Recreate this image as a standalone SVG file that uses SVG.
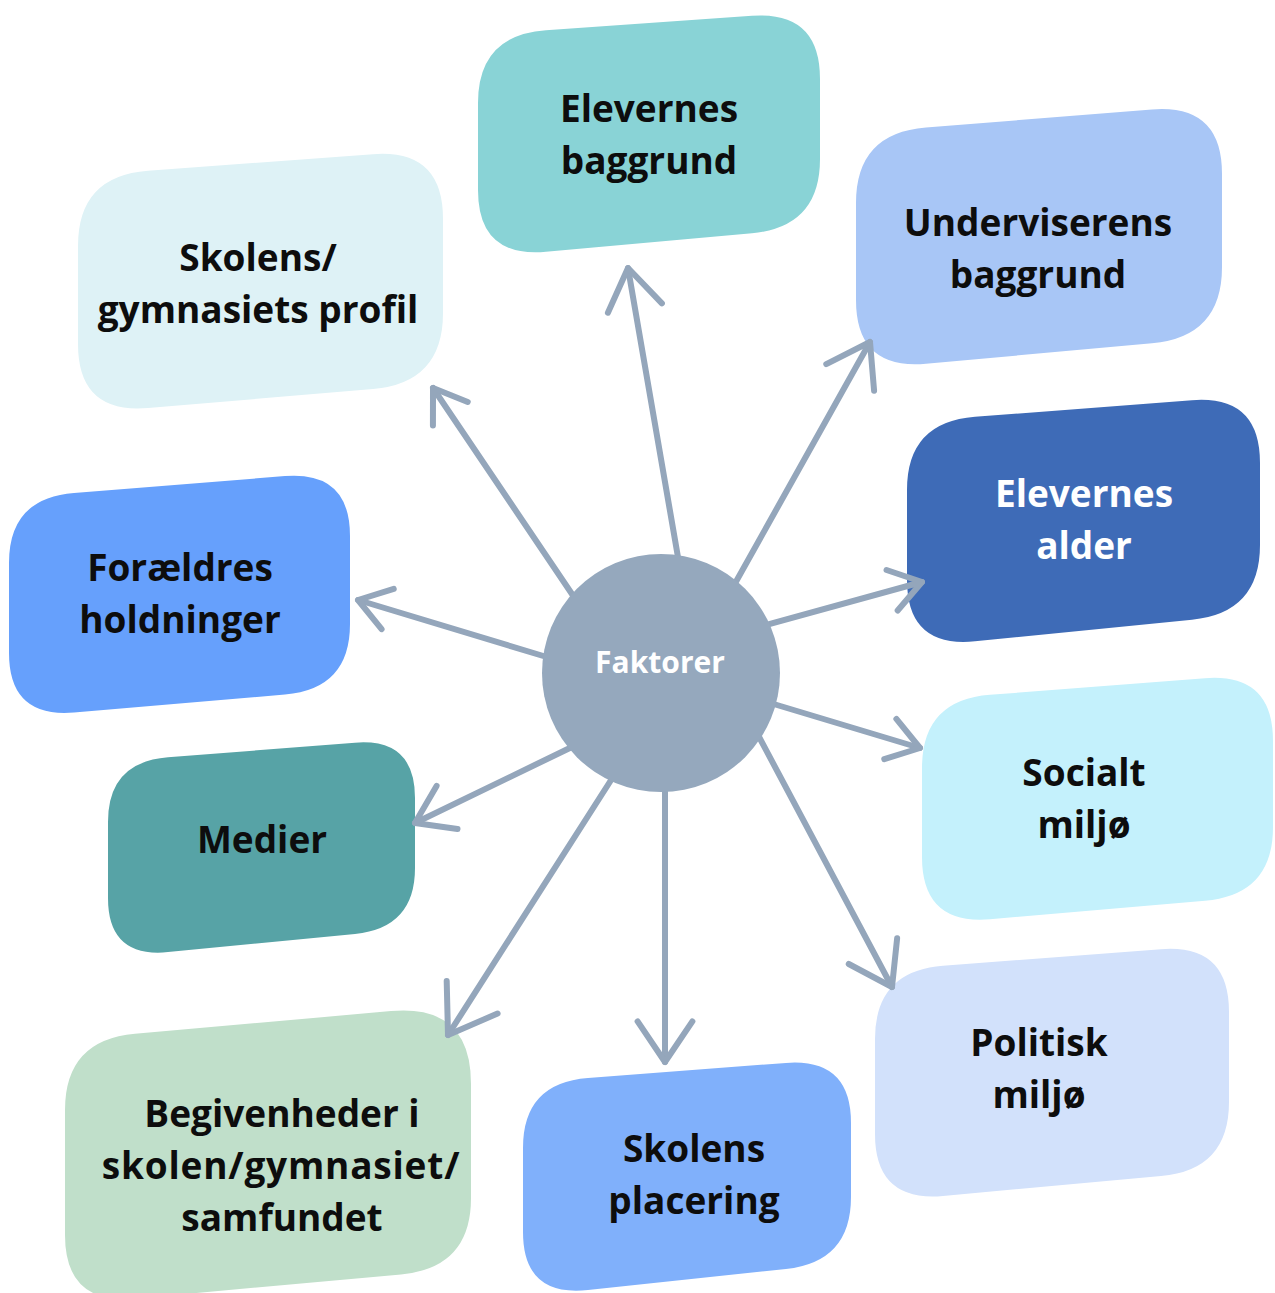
<svg xmlns="http://www.w3.org/2000/svg" width="1275" height="1293" viewBox="0 0 1275 1293">
<style>
  .lbl { font-family: "Open Sans", "Liberation Sans", sans-serif; font-weight: 700; font-size: 37px; fill: #0d0d0d; text-anchor: middle; }
  .lbl.white { fill: #ffffff; }
  .center-lbl { font-family: "Open Sans", "Liberation Sans", sans-serif; font-weight: 700; font-size: 30px; fill: #ffffff; text-anchor: middle; }
  .conn { fill: none; stroke: #94a6bb; stroke-width: 6; stroke-linecap: round; stroke-linejoin: round; }
  .head { fill: none; stroke: #94a6bb; stroke-width: 6; stroke-linecap: round; stroke-linejoin: round; }
</style>
<defs>
  <marker id="hs" markerUnits="userSpaceOnUse" orient="auto" refX="0" refY="0" markerWidth="1" markerHeight="1" overflow="visible">
    <path class="head" d="M-31,-21 L0,0 L-31,21"/>
  </marker>
  <marker id="hm" markerUnits="userSpaceOnUse" orient="auto" refX="0" refY="0" markerWidth="1" markerHeight="1" overflow="visible">
    <path class="head" d="M-35.6,-24 L0,0 L-35.6,24"/>
  </marker>
  <marker id="hl" markerUnits="userSpaceOnUse" orient="auto" refX="0" refY="0" markerWidth="1" markerHeight="1" overflow="visible">
    <path class="head" d="M-40.6,-27.4 L0,0 L-40.6,27.4"/>
  </marker>
  <marker id="hxl" markerUnits="userSpaceOnUse" orient="auto" refX="0" refY="0" markerWidth="1" markerHeight="1" overflow="visible">
    <path class="head" d="M-44.8,-30.2 L0,0 L-44.8,30.2"/>
  </marker>
</defs>
<rect width="1275" height="1293" fill="#ffffff"/>

<g id="node-elevernes-baggrund">
  <path fill="#89d3d6" d="M546,30.2 L752,15.8 Q820,11 820,79 L820,159 Q820,227 752,233.2 L546,251.8 Q478,258 478,190 L478,103 Q478,35 546,30.2 Z"/>
  <text class="lbl" x="649" y="122">Elevernes</text>
  <text class="lbl" x="649" y="174">baggrund</text>
</g>
<g id="node-skolens-profil">
  <path fill="#def2f6" d="M148,170.8 L373,154.2 Q443,149 443,219 L443,313 Q443,383 373,389 L148,408 Q78,414 78,344 L78,246 Q78,176 148,170.8 Z"/>
  <text class="lbl" x="258" y="271">Skolens/</text>
  <text class="lbl" x="258" y="323">gymnasiets profil</text>
</g>
<g id="node-underviserens-baggrund">
  <path fill="#a8c6f6" d="M926,127.5 L1152,109.5 Q1222,104 1222,174 L1222,267 Q1222,337 1152,343.3 L926,363.7 Q856,370 856,300 L856,203 Q856,133 926,127.5 Z"/>
  <text class="lbl" x="1038" y="236">Underviserens</text>
  <text class="lbl" x="1038" y="288">baggrund</text>
</g>
<g id="node-elevernes-alder">
  <path fill="#3e6bb7" d="M975,416.8 L1192,400.2 Q1260,395 1260,463 L1260,545 Q1260,613 1192,619.7 L975,641.3 Q907,648 907,580 L907,490 Q907,422 975,416.8 Z"/>
  <text class="lbl white" x="1084" y="507">Elevernes</text>
  <text class="lbl white" x="1084" y="559">alder</text>
</g>
<g id="node-foraeldres-holdninger">
  <path fill="#66a0fc" d="M74,492.9 L285,476.1 Q350,471 350,536 L350,624 Q350,689 285,694.5 L74,712.5 Q9,718 9,653 L9,563 Q9,498 74,492.9 Z"/>
  <text class="lbl" x="180" y="581">Forældres</text>
  <text class="lbl" x="180" y="633">holdninger</text>
</g>
<g id="node-medier">
  <path fill="#57a3a6" d="M168,757.3 L355,742.7 Q415,738 415,798 L415,868 Q415,928 355,933.9 L168,952.1 Q108,958 108,898 L108,822 Q108,762 168,757.3 Z"/>
  <text class="lbl" x="262" y="853">Medier</text>
</g>
<g id="node-socialt-miljo">
  <path fill="#c4f1fc" d="M990,694.8 L1205,678.2 Q1273,673 1273,741 L1273,827 Q1273,895 1205,900.8 L990,919.2 Q922,925 922,857 L922,768 Q922,700 990,694.8 Z"/>
  <text class="lbl" x="1084" y="786">Socialt</text>
  <text class="lbl" x="1084" y="838">miljø</text>
</g>
<g id="node-politisk-miljo">
  <path fill="#d2e1fb" d="M943,965.8 L1161,949.2 Q1229,944 1229,1012 L1229,1102 Q1229,1170 1161,1176.1 L943,1195.9 Q875,1202 875,1134 L875,1039 Q875,971 943,965.8 Z"/>
  <text class="lbl" x="1039" y="1056">Politisk</text>
  <text class="lbl" x="1039" y="1108">miljø</text>
</g>
<g id="node-begivenheder">
  <path fill="#c0dfca" d="M135,1033.8 L391,1011.1 Q471,1004 471,1084 L471,1198 Q471,1268 401,1274.4 L135,1298.6 Q65,1305 65,1235 L65,1110 Q65,1040 135,1033.8 Z"/>
  <text class="lbl" x="282" y="1127">Begivenheder i</text>
  <text class="lbl" x="281" y="1179" letter-spacing="0.8">skolen/gymnasiet/</text>
  <text class="lbl" x="282" y="1231">samfundet</text>
</g>
<g id="node-skolens-placering">
  <path fill="#80b0fb" d="M588,1078.1 L786,1062.9 Q851,1058 851,1123 L851,1197 Q851,1262 786,1269 L588,1290 Q523,1297 523,1232 L523,1148 Q523,1083 588,1078.1 Z"/>
  <text class="lbl" x="694" y="1162">Skolens</text>
  <text class="lbl" x="694" y="1214">placering</text>
</g>

<g id="connectors">
  <line class="conn" x1="679" y1="563" x2="628" y2="268" marker-end="url(#hl)"/>
  <line class="conn" x1="733" y1="587" x2="870" y2="342" marker-end="url(#hl)"/>
  <line class="conn" x1="576" y1="600" x2="433" y2="388" marker-end="url(#hs)"/>
  <line class="conn" x1="762" y1="626" x2="922" y2="582" marker-end="url(#hs)"/>
  <line class="conn" x1="550" y1="658" x2="358" y2="600" marker-end="url(#hs)"/>
  <line class="conn" x1="767" y1="702" x2="920" y2="748" marker-end="url(#hs)"/>
  <line class="conn" x1="574" y1="746" x2="415" y2="823" marker-end="url(#hm)"/>
  <line class="conn" x1="757" y1="733" x2="892" y2="987" marker-end="url(#hl)"/>
  <line class="conn" x1="665" y1="780" x2="665" y2="1062" marker-end="url(#hl)"/>
  <line class="conn" x1="613" y1="777" x2="448" y2="1035" marker-end="url(#hxl)"/>
</g>

<g id="node-faktorer">
  <circle cx="661" cy="673" r="119" fill="#95a8bd"/>
  <text class="center-lbl" x="660" y="673">Faktorer</text>
</g>
</svg>
